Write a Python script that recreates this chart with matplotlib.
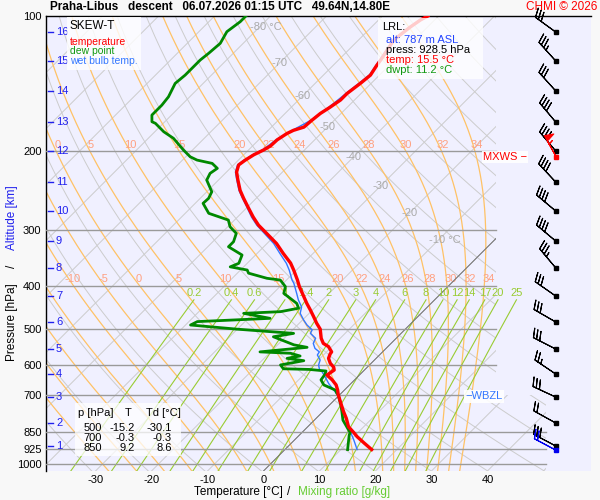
import numpy as np
import matplotlib
matplotlib.use("Agg")
import matplotlib.pyplot as plt
from matplotlib.patches import Polygon, Rectangle
from matplotlib.transforms import blended_transform_factory

plt.rcParams['font.family'] = ['Liberation Sans', 'DejaVu Sans']

# ─────────────────────────────────────────────
# SOUNDING DATA (surface -> top)
# ─────────────────────────────────────────────
temp_p = [928.5, 898, 869, 850, 826, 791, 764, 738, 700, 684, 666, 649, 633,
          617, 608, 596, 581, 568, 562, 547, 538, 524, 500, 485, 469, 453,
          438, 420, 402, 388, 369, 356, 339, 322, 306, 293, 281, 267, 255,
          245, 232, 223, 215, 210, 204, 199, 195, 189, 183, 180, 177, 171,
          165, 160, 154, 149, 141, 135.5, 129, 125, 113, 106, 102, 100]
temp_t = [15.5, 13.0, 10.6, 9.2, 7.3, 5.4, 3.7, 2.1, -0.3, -1.2, -2.4, -4.0,
          -5.8, -5.4, -6.0, -7.3, -8.5, -9.0, -9.1, -10.6, -12.1, -13.4, -15.2,
          -16.9, -18.6, -20.4, -22.2, -24.3, -26.5, -28.1, -30.5, -32.3, -35.3,
          -38.3, -41.8, -44.8, -47.2, -49.9, -52.3, -54.3, -56.6, -58.2, -59.1,
          -58.8, -58.2, -57.3, -56.8, -56.7, -56.1, -55.5, -54.2, -54.0, -53.7,
          -53.1, -52.5, -52.5, -51.9, -51.6, -52.2, -52.5, -53.7, -53.1, -52.5,
          -51.9]

dwpt_p = [928.5, 899, 862, 850, 840, 798, 764, 738, 700, 695, 684, 666, 649,
          630, 620, 615, 613, 601, 588, 581, 574, 566, 562, 549, 542, 520, 511,
          500, 489.5, 481, 473, 461, 457, 449, 438, 416, 402, 388.5, 385, 375,
          369, 363, 356.5, 341.6, 327.4, 319, 305.6, 295.4, 285.4, 280.6, 275.7,
          261.9, 255.3, 246.8, 232.4, 224.5, 218.8, 213.3, 209.7, 206.2, 199.2,
          187.5, 181.3, 173.6, 172.2, 166.4, 158.1, 151.5, 141.4, 135.5, 130.9,
          125.4, 121.2, 115.1, 108.4, 103, 100]
dwpt_t = [11.2, 10.2, 8.9, 8.6, 7.9, 5.1, 3.4, 2.0, -0.3, -0.8, -1.6, -4.6,
          -6.0, -6.3, -6.7, -10.0, -14.7, -15.9, -12.5, -15.9, -14.0, -16.2,
          -21.9, -14.3, -17.1, -22.2, -19.2, -30.1, -39.1, -38.5, -26.1, -31.7,
          -25.4, -22.8, -24.0, -28.1, -29.0, -31.1, -33.8, -38.0, -38.8, -42.4,
          -41.5, -42.4, -46.3, -46.3, -47.3, -49.6, -51.1, -53.4, -55.8, -58.6,
          -58.5, -59.1, -62.1, -62.7, -62.3, -64.1, -67.4, -69.2, -71.6, -75.5,
          -78.4, -81.4, -82.3, -83.5, -83.5, -83.8, -85.0, -84.7, -84.7, -84.7,
          -84.4, -84.1, -85.0, -84.4, -84.4]

wetb_p = [928.5, 884, 847, 811, 764, 732, 701.4, 684, 661, 639, 622, 617, 601,
          586, 571, 562, 552, 538, 524, 511, 502, 489.5, 477, 461, 446, 430.5,
          416, 395, 388.5, 369, 356.5, 339, 322, 306, 293, 281, 267, 255, 245,
          232, 223, 215, 210, 204, 199, 189, 180, 171, 160, 149, 135.5, 125, 113,
          102, 100]
wetb_t = [12.9, 10.6, 8.5, 6.5, 3.7, 1.6, -0.3, -1.9, -4.0, -5.8, -7.3, -8.0,
          -9.1, -9.7, -11.1, -11.3, -12.7, -13.9, -14.4, -16.2, -16.5, -18.3,
          -19.8, -21.6, -22.5, -24.3, -25.8, -28.1, -29.0, -31.3, -33.0, -35.9,
          -38.8, -42.2, -45.1, -47.5, -50.1, -52.5, -54.5, -56.8, -58.4, -59.3,
          -59.0, -58.4, -57.5, -56.9, -55.7, -54.2, -53.3, -52.7, -51.8, -52.7,
          -53.9, -52.7, -52.1]

# altitude levels (km) and wind at those levels
alt_km = list(range(1, 17))
alt_p = [911.6, 810, 709, 629.7, 553.8, 482, 421.8, 365, 318, 272.5, 234.8,
         200.2, 172.5, 147, 126, 108.6]
wind_dir = [298, 299, 295, 304, 297, 300, 305, 320, 310, 310, 317, 320, 320,
            318, 318, 306]
wind_spd = [30, 20, 30, 25, 30, 30, 30, 35, 40, 40, 40, 40, 40, 30, 35, 30]

mxws_p, mxws_dir, mxws_spd = 206.5, 331, 55
lrl_p, lrl_dir, lrl_spd = 928.5, 298, 20
lrl_alt, lrl_t, lrl_td = 787, 15.5, 11.2

table_p = [500, 700, 850]
table_t = [-15.2, -0.3, 9.2]
table_td = [-30.1, -0.3, 8.6]

pressure_ticks = [100, 200, 300, 400, 500, 600, 700, 850, 925, 1000]
temp_ticks = [-30, -20, -10, 0, 10, 20, 30, 40]
isotherm_lbl_t = [-80, -70, -60, -50, -40, -30, -20, -10]
isotherm_lbl_p = [105.9, 127.4, 150.9, 176.9, 206.5, 239.6, 275.3, 316.3]
theta_w = [-30, -25, -20, -15, -10, -5, 0, 5, 10, 15, 20, 22, 24, 26, 28, 30, 32, 34]
mix_ratios = [0.2, 0.4, 0.6, 1, 1.4, 2, 3, 4, 6, 8, 10, 12, 14, 17, 20, 25]

# ─────────────────────────────────────────────
# GEOMETRY
# ─────────────────────────────────────────────
P_BOT, P_TOP = 1036.6, 100.0
SKEW = 34.75
XMIN, XMAX = -38.9, 58.5
X_GRID = 41.5      # right end of the diagram
X_LOW = 50.4       # right end of lower pressure lines
X_BARB = 52.2


def skew(t, p):
    return np.asarray(t) + SKEW * np.log(P_BOT / np.asarray(p, dtype=float))


def fx(px):
    return px / 600.0


def fy(py):
    return 1.0 - py / 500.0


def moist_adiabats(tw_list, lnp):
    Rd, Cp, Lv, eps = 287.04, 1005.7, 2.501e6, 0.622

    def g(T, lp):
        p = np.exp(lp)
        es = 6.112 * np.exp(17.67 * (T - 273.15) / (T - 29.65))
        rs = eps * es / (p - es)
        return (Rd * T + Lv * rs) / (Cp + Lv * Lv * rs * eps / (Rd * T * T))

    T = np.array(tw_list, dtype=float) + 273.15
    out = [T.copy()]
    for a, b in zip(lnp[:-1], lnp[1:]):
        h = b - a
        k1 = g(T, a)
        k2 = g(T + h / 2 * k1, a + h / 2)
        k3 = g(T + h / 2 * k2, a + h / 2)
        k4 = g(T + h * k3, b)
        T = T + h / 6 * (k1 + 2 * k2 + 2 * k3 + k4)
        out.append(T.copy())
    return np.array(out) - 273.15


def dewpoint_from_e(e):
    x = np.log(e / 6.112)
    return 243.5 * x / (17.67 - x)


fig = plt.figure(figsize=(6, 5), dpi=100, facecolor='#f8f8f8')
ax = fig.add_axes([45.7 / 600, 29 / 500, 545.3 / 600, 455 / 500])
ax.set_facecolor('#f0f0ff')
ax.set_yscale('log')
ax.set_xlim(XMIN, XMAX)
ax.set_ylim(P_BOT, P_TOP)

for side in ('bottom', 'right'):
    ax.spines[side].set_visible(False)
for side in ('left', 'top'):
    ax.spines[side].set_color('black')
    ax.spines[side].set_linewidth(1.0)

ax.set_yticks(pressure_ticks)
ax.set_yticklabels([str(p) for p in pressure_ticks], fontsize=8)
ax.yaxis.set_minor_locator(matplotlib.ticker.NullLocator())
ax.set_xticks(temp_ticks)
ax.set_xticklabels([str(t) for t in temp_ticks], fontsize=8)
ax.tick_params(length=0, pad=3)

clip = Polygon([(XMIN, P_BOT), (X_LOW, P_BOT), (X_LOW, 700), (X_GRID, 700),
                (X_GRID, P_TOP), (XMIN, P_TOP)], closed=True,
               transform=ax.transData, facecolor='none', edgecolor='none')

p_line = np.geomspace(P_BOT, P_TOP, 200)

# isotherms
for t in range(-120, 60, 10):
    ln, = ax.plot(skew([t, t], [P_BOT, P_TOP]), [P_BOT, P_TOP],
                  color='#cccccc', lw=0.7, zorder=1)
    ln.set_clip_path(clip)

# dry adiabats
for th in range(230, 510, 10):
    tt = th * (p_line / 1000.0) ** 0.2857 - 273.15
    ln, = ax.plot(skew(tt, p_line), p_line, color='#cccccc', lw=0.7, zorder=1)
    ln.set_clip_path(clip)

# moist adiabats
lnp_up = np.linspace(np.log(1000.0), np.log(P_TOP), 300)
lnp_dn = np.linspace(np.log(1000.0), np.log(P_BOT), 10)
ma_up = moist_adiabats(theta_w, lnp_up)
ma_dn = moist_adiabats(theta_w, lnp_dn)
p_ma = np.concatenate([np.exp(lnp_dn[::-1]), np.exp(lnp_up[1:])])
for i, tw in enumerate(theta_w):
    tt = np.concatenate([ma_dn[::-1, i], ma_up[1:, i]])
    ln, = ax.plot(skew(tt, p_ma), p_ma, color='#ffc266', lw=0.9, zorder=2)
    ln.set_clip_path(clip)
    for p_lbl in (194.1, 386.5):
        t_lbl = np.interp(np.log(p_lbl), lnp_up[::-1], ma_up[::-1, i])
        x_lbl = float(skew(t_lbl, p_lbl)) + 0.7
        if XMIN + 1.5 < x_lbl < X_GRID:
            ax.text(x_lbl, p_lbl, str(tw), color='#ffa080', fontsize=8,
                    ha='center', va='center', zorder=3)

# 0 degC isotherm
ln, = ax.plot(skew([0, 0], [P_BOT, P_TOP]), [P_BOT, P_TOP],
              color='#707070', lw=0.7, zorder=3)
ln.set_clip_path(clip)

# mixing ratio lines
p_mr = np.geomspace(P_BOT, 430, 50)
for w in mix_ratios:
    tt = dewpoint_from_e(w * p_mr / (622.0 + w))
    ax.plot(skew(tt, p_mr), p_mr, color='#99cc33', lw=0.8, zorder=2)
    ax.text(skew(tt[-1], 430), 415, f'{w:g}', color='#99cc33', fontsize=8,
            ha='center', va='center', zorder=3)

# isotherm labels
for t, p in zip(isotherm_lbl_t, isotherm_lbl_p):
    if t in (-80, -10):
        ax.text(skew(t, p) - 1.6, p, f'{t} °C', color='#aaaaaa', fontsize=8,
                ha='left', va='center', zorder=3)
    else:
        ax.text(skew(t, p), p, str(t), color='#aaaaaa', fontsize=8,
                ha='center', va='center', zorder=3)

# pressure lines
for p in pressure_ticks[1:]:
    xe = X_LOW if p >= 850 else X_GRID
    ax.plot([XMIN, xe], [p, p], color='#9a9a9a', lw=1.0, zorder=3)

# sounding curves
ax.plot(skew(wetb_t, wetb_p), wetb_p, color='#3377ff', lw=1.0, zorder=5)
ax.plot(skew(dwpt_t, dwpt_p), dwpt_p, color='#008800', lw=2.0, zorder=6)
ax.plot(skew(temp_t, temp_p), temp_p, color='#ff0000', lw=2.4, zorder=7)

# altitude scale
blend = blended_transform_factory(ax.transAxes, ax.transData)
for km, p in zip(alt_km, alt_p):
    ax.plot([(47.5 - 45.7) / 545.3, (53 - 45.7) / 545.3], [p, p],
            color='#2020ee', lw=1.0, transform=blend, zorder=4, clip_on=False)
    ax.text((56 - 45.7) / 545.3, p, str(km), color='#2020ee', fontsize=8,
            ha='left', va='center', transform=blend, zorder=4)

# wind barbs
def uv(spd, d):
    r = np.deg2rad(np.asarray(d, dtype=float))
    s = np.asarray(spd, dtype=float)
    return -s * np.sin(r), -s * np.cos(r)

barb_kw = dict(length=6.0, lw=0.8, sizes=dict(spacing=0.14, height=0.36),
               clip_on=False)
u, v = uv(wind_spd, wind_dir)
ax.barbs(np.full(len(alt_p), X_BARB), alt_p, u, v, color='black', zorder=8,
         **barb_kw)
ax.plot(np.full(len(alt_p), X_BARB), alt_p, 's', ms=2.8, color='black',
        zorder=9, clip_on=False)
u, v = uv([mxws_spd], [mxws_dir])
ax.barbs([X_BARB], [mxws_p], u, v, color='red', zorder=9, **barb_kw)
ax.plot([X_BARB], [mxws_p], 's', ms=2.8, color='red', zorder=10)
u, v = uv([lrl_spd], [lrl_dir])
ax.barbs([X_BARB], [lrl_p], u, v, color='#0000ee', zorder=9, **barb_kw)
ax.plot([X_BARB], [lrl_p], 's', ms=2.8, color='#0000ee', zorder=10)

# WBZL / MXWS markers
p_wbzl = np.exp(np.interp(0.0, wetb_t[::-1], np.log(wetb_p[::-1])))
ax.text(36.0, p_wbzl, '\u2212WBZL', color='#3377ff', fontsize=8, ha='left',
        va='center', zorder=9,
        bbox=dict(facecolor='white', edgecolor='none', pad=1.0, alpha=0.9))
ax.text((483 - 263.5) / 5.6, mxws_p, 'MXWS \u2212', color='red', fontsize=8,
        ha='left', va='center', zorder=9,
        bbox=dict(facecolor='white', edgecolor='none', pad=1.0, alpha=0.9))

# ─────────────────────────────────────────────
# BOXES AND TEXT
# ─────────────────────────────────────────────
def box(x0, y0, x1, y1, alpha):
    fig.add_artist(Rectangle((fx(x0), fy(y1)), fx(x1 - x0), (y1 - y0) / 500.0,
                             transform=fig.transFigure, facecolor='white',
                             edgecolor='none', alpha=alpha, zorder=20))

box(67, 17, 141, 70, 0.8)
fig.text(fx(70), fy(26), 'SKEW-T', fontsize=8.5, va='center', zorder=21)
fig.text(fx(70), fy(42), 'temperature', fontsize=7.5, color='red', va='center', zorder=21)
fig.text(fx(70), fy(51.5), 'dew point', fontsize=7.5, color='#119911', va='center', zorder=21)
fig.text(fx(70), fy(61), 'wet bulb temp.', fontsize=7.5, color='#3377ff', va='center', zorder=21)

box(378, 18, 483, 79, 0.8)
fig.text(fx(382), fy(27), 'LRL:', fontsize=8, va='center', zorder=21)
fig.text(fx(386), fy(40), f'alt: {lrl_alt} m ASL', fontsize=8, color='#2244ff', va='center', zorder=21)
fig.text(fx(386), fy(50), f'press: {lrl_p:.1f} hPa', fontsize=8, va='center', zorder=21)
fig.text(fx(386), fy(60), f'temp: {lrl_t:.1f} °C', fontsize=8, color='red', va='center', zorder=21)
fig.text(fx(386), fy(70), f'dwpt: {lrl_td:.1f} °C', fontsize=8, color='#119911', va='center', zorder=21)

box(75, 403, 181, 456, 0.75)
fig.text(fx(78), fy(413), 'p [hPa]', fontsize=8, va='center', zorder=21)
fig.text(fx(128), fy(413), 'T', fontsize=8, va='center', ha='center', zorder=21)
fig.text(fx(146), fy(413), 'Td [°C]', fontsize=8, va='center', zorder=21)
for i, (p, t, td) in enumerate(zip(table_p, table_t, table_td)):
    yy = 428 + 10 * i
    fig.text(fx(102), fy(yy), str(p), fontsize=8, ha='right', va='center', zorder=21)
    fig.text(fx(135), fy(yy), f'{t:.1f}', fontsize=8, ha='right', va='center', zorder=21)
    fig.text(fx(172), fy(yy), f'{td:.1f}', fontsize=8, ha='right', va='center', zorder=21)

fig.text(fx(50), fy(7.5), 'Praha-Libus   descent   06.07.2026 01:15 UTC   49.64N,14.80E',
         fontsize=8.5, fontweight='bold', va='center', ha='left')
fig.text(fx(597), fy(7.5), 'CHMI © 2026', fontsize=8.5, color='red', va='center', ha='right')

fig.text(fx(12), fy(322), 'Pressure [hPa]', fontsize=8.5, rotation=90, ha='center', va='center')
fig.text(fx(12), fy(266), '/', fontsize=8.5, rotation=90, ha='center', va='center')
fig.text(fx(12), fy(218), 'Altitude [km]', fontsize=8.5, rotation=90, ha='center', va='center', color='#2020ee')

fig.text(fx(238), fy(492), 'Temperature [°C]', fontsize=8.5, ha='center', va='center')
fig.text(fx(289), fy(492), '/', fontsize=8.5, ha='center', va='center')
fig.text(fx(344), fy(492), 'Mixing ratio [g/kg]', fontsize=8.5, ha='center', va='center', color='#66cc33')

fig.savefig('out.png', dpi=100, facecolor=fig.get_facecolor())
